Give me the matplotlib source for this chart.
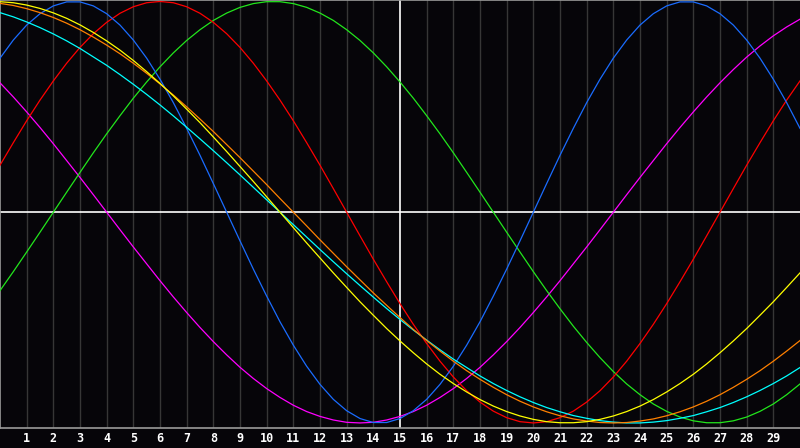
import matplotlib
matplotlib.use("Agg")
import matplotlib.pyplot as plt
import numpy as np

# -----------------------------------------------------------
# data: cycle values every half day (day 0..30)
# -----------------------------------------------------------
days = np.arange(0, 30.5, 0.5)
tick_days = list(range(1, 30))
tick_labels = [str(d) for d in tick_days]

physical = [0.731, 0.817, 0.888, 0.942, 0.979, 0.998, 0.998, 0.979, 0.942, 0.888,
            0.817, 0.731, 0.631, 0.520, 0.398, 0.270, 0.136, 0.0, -0.136, -0.270,
            -0.398, -0.520, -0.631, -0.731, -0.817, -0.888, -0.942, -0.979, -0.998, -0.998,
            -0.979, -0.942, -0.888, -0.817, -0.731, -0.631, -0.520, -0.398, -0.270, -0.136,
            0.0, 0.136, 0.270, 0.398, 0.520, 0.631, 0.731, 0.817, 0.888, 0.942,
            0.979, 0.998, 0.998, 0.979, 0.942, 0.888, 0.817, 0.731, 0.631, 0.520, 0.398]
emotional = [0.223, 0.330, 0.434, 0.532, 0.623, 0.707, 0.782, 0.847, 0.901, 0.944,
             0.975, 0.994, 1.000, 0.994, 0.975, 0.944, 0.901, 0.847, 0.782, 0.707,
             0.623, 0.532, 0.434, 0.330, 0.223, 0.112, 0.0, -0.112, -0.223, -0.330,
             -0.434, -0.532, -0.623, -0.707, -0.782, -0.847, -0.901, -0.944, -0.975, -0.994,
             -1.000, -0.994, -0.975, -0.944, -0.901, -0.847, -0.782, -0.707, -0.623, -0.532,
             -0.434, -0.330, -0.223, -0.112, 0.0, 0.112, 0.223, 0.330, 0.434, 0.532, 0.623]
intellectual = [-0.372, -0.282, -0.189, -0.095, 0.0, 0.095, 0.189, 0.282, 0.372, 0.458,
                0.541, 0.618, 0.690, 0.756, 0.815, 0.866, 0.910, 0.945, 0.972, 0.990,
                0.999, 0.999, 0.990, 0.972, 0.945, 0.910, 0.866, 0.815, 0.756, 0.690,
                0.618, 0.541, 0.458, 0.372, 0.282, 0.189, 0.095, 0.0, -0.095, -0.189,
                -0.282, -0.372, -0.458, -0.541, -0.618, -0.690, -0.756, -0.815, -0.866, -0.910,
                -0.945, -0.972, -0.990, -0.999, -0.999, -0.990, -0.972, -0.945, -0.910, -0.866, -0.815]
intuitive = [0.614, 0.547, 0.476, 0.402, 0.325, 0.245, 0.165, 0.083, 0.0, -0.083,
             -0.165, -0.245, -0.325, -0.402, -0.476, -0.547, -0.614, -0.677, -0.736, -0.789,
             -0.837, -0.879, -0.916, -0.946, -0.969, -0.986, -0.997, -1.000, -0.997, -0.986,
             -0.969, -0.946, -0.916, -0.879, -0.837, -0.789, -0.736, -0.677, -0.614, -0.547,
             -0.476, -0.402, -0.325, -0.245, -0.165, -0.083, 0.0, 0.083, 0.165, 0.245,
             0.325, 0.402, 0.476, 0.547, 0.614, 0.677, 0.736, 0.789, 0.837, 0.879, 0.916]
aesthetic = [0.999, 0.994, 0.983, 0.967, 0.946, 0.920, 0.889, 0.853, 0.813, 0.769,
             0.720, 0.667, 0.611, 0.552, 0.489, 0.425, 0.357, 0.288, 0.217, 0.146,
             0.073, 0.0, -0.073, -0.146, -0.217, -0.288, -0.357, -0.425, -0.489, -0.552,
             -0.611, -0.667, -0.720, -0.769, -0.813, -0.853, -0.889, -0.920, -0.946, -0.967,
             -0.983, -0.994, -0.999, -0.999, -0.994, -0.983, -0.967, -0.946, -0.920, -0.889,
             -0.853, -0.813, -0.769, -0.720, -0.667, -0.611, -0.552, -0.489, -0.425, -0.357, -0.288]
awareness = [0.991, 0.981, 0.966, 0.947, 0.924, 0.897, 0.866, 0.831, 0.793, 0.752,
             0.707, 0.659, 0.609, 0.556, 0.500, 0.442, 0.383, 0.321, 0.259, 0.195,
             0.131, 0.065, 0.0, -0.065, -0.131, -0.195, -0.259, -0.321, -0.383, -0.442,
             -0.500, -0.556, -0.609, -0.659, -0.707, -0.752, -0.793, -0.831, -0.866, -0.897,
             -0.924, -0.947, -0.966, -0.981, -0.991, -0.998, -1.000, -0.998, -0.991, -0.981,
             -0.966, -0.947, -0.924, -0.897, -0.866, -0.831, -0.793, -0.752, -0.707, -0.659, -0.609]
spiritual = [0.947, 0.927, 0.903, 0.876, 0.846, 0.813, 0.777, 0.737, 0.697, 0.653,
             0.607, 0.559, 0.509, 0.457, 0.403, 0.348, 0.292, 0.235, 0.177, 0.118,
             0.059, 0.0, -0.059, -0.118, -0.177, -0.235, -0.292, -0.348, -0.403, -0.457,
             -0.509, -0.559, -0.607, -0.653, -0.697, -0.737, -0.777, -0.813, -0.846, -0.876,
             -0.903, -0.927, -0.947, -0.965, -0.978, -0.989, -0.996, -1.000, -1.000, -0.996,
             -0.989, -0.978, -0.965, -0.947, -0.927, -0.903, -0.876, -0.846, -0.813, -0.777, -0.737]

series = [
    (intuitive, '#ff00ff'),
    (intellectual, '#22e61c'),
    (emotional, '#ff0000'),
    (physical, '#1a6cff'),
    (spiritual, '#00ffff'),
    (awareness, '#ff8000'),
    (aesthetic, '#ffff00'),
]

# -----------------------------------------------------------
# plot
# -----------------------------------------------------------
bg = '#060509'
fig = plt.figure(figsize=(8, 4.48), dpi=100, facecolor=bg)
ax = fig.add_axes([0, 20 / 448, 1, 428 / 448], facecolor=bg)

for d in tick_days:
    if d == 15:
        continue
    ax.axvline(d, color='#363636', lw=1.0, zorder=1)
ax.axvline(15, color='white', lw=1.2, zorder=1)
ax.axhline(0, color='white', lw=1.2, zorder=1)

for vals, col in series:
    ax.plot(days, vals, color=col, lw=0.9, zorder=3)

ax.set_xlim(0, 30)
ax.set_ylim(-1.024, 1.007)
ax.set_yticks([])
ax.set_xticks(tick_days)
ax.set_xticklabels(tick_labels)
ax.tick_params(axis='x', length=0, pad=3, colors='white', labelsize=8.5)
for lbl in ax.get_xticklabels():
    lbl.set_fontfamily('DejaVu Sans Mono')
    lbl.set_fontweight('bold')

for side in ['left', 'top', 'bottom']:
    ax.spines[side].set_color('#9a9a9a')
    ax.spines[side].set_linewidth(1.2)
ax.spines['right'].set_visible(False)

fig.savefig('out.png', dpi=100, facecolor=bg)
